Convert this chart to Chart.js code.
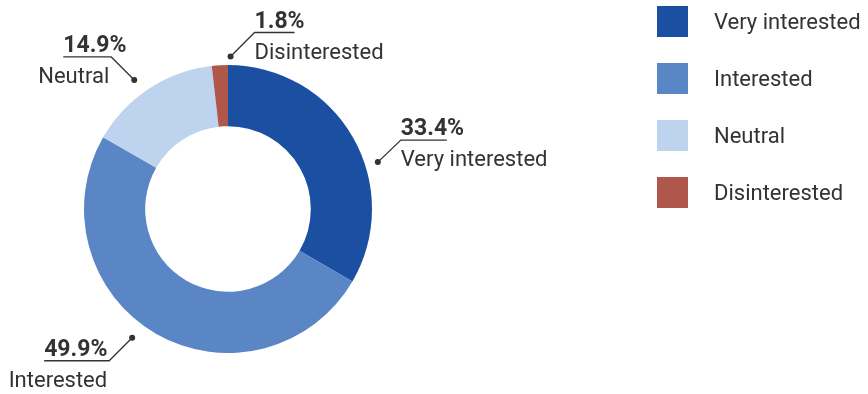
<!DOCTYPE html>
<html>
<head>
<meta charset="utf-8">
<script src="https://cdn.jsdelivr.net/npm/chart.js@4/dist/chart.umd.min.js"></script>
<style>
  html, body { margin: 0; padding: 0; background: #ffffff; }
  #wrap { width: 868px; height: 394px; position: relative; }
</style>
</head>
<body>
<div id="wrap"><canvas id="chart"></canvas></div>
<script>
// Survey answers: share of respondents per interest level (%)
const categories = ['Very interested', 'Interested', 'Neutral', 'Disinterested'];
const shares = [33.4, 49.9, 14.9, 1.8];
const sliceColors = ['#1b4fa2', '#5a86c5', '#bdd3ee', '#b0574c'];

const TEXT_COLOR = '#333333';
const FONT_FAMILY = 'Roboto, "Noto Sans", sans-serif';

// Callout geometry for each slice: where the dot sits relative to the arc,
// the elbow of the leader line and the length of the underline.
const calloutStyle = [
  { angleShift: 12.5, gap: 13, elbowDx: 23, elbowDy: -22, lineLen: 46, side: 'right' },
  { angleShift: 6.6, gap: 16.5, elbowDx: -23, elbowDy: 23, lineLen: 65, side: 'left' },
  { angleShift: -2.7, gap: 15.5, elbowDx: -23, elbowDy: -23, lineLen: 48, side: 'left' },
  { angleShift: 4.2, gap: 8.5, elbowDx: 24, elbowDy: -24, lineLen: 40, side: 'right' }
];

const calloutPlugin = {
  id: 'callouts',
  afterDatasetsDraw(chart) {
    const ctx = chart.ctx;
    const meta = chart.getDatasetMeta(0);
    const values = chart.data.datasets[0].data;
    const labels = chart.data.labels;
    ctx.save();
    meta.data.forEach((arc, i) => {
      const st = calloutStyle[i];
      const props = arc.getProps(['x', 'y', 'startAngle', 'endAngle', 'outerRadius'], true);
      const mid = (props.startAngle + props.endAngle) / 2 + st.angleShift * Math.PI / 180;
      const r = props.outerRadius + st.gap;
      const dx = props.x + r * Math.cos(mid);
      const dy = props.y + r * Math.sin(mid);
      const ex = dx + st.elbowDx;
      const ey = dy + st.elbowDy;
      const lx = st.side === 'right' ? ex + st.lineLen : ex - st.lineLen;

      // leader line + underline
      ctx.strokeStyle = TEXT_COLOR;
      ctx.lineWidth = 1.3;
      ctx.beginPath();
      ctx.moveTo(dx, dy);
      ctx.lineTo(ex, ey);
      ctx.lineTo(lx, ey);
      ctx.stroke();
      // anchor dot
      ctx.fillStyle = TEXT_COLOR;
      ctx.beginPath();
      ctx.arc(dx, dy, 3, 0, Math.PI * 2);
      ctx.fill();

      // percentage (bold) above the underline
      ctx.textBaseline = 'alphabetic';
      ctx.font = 'bold 23px ' + FONT_FAMILY;
      ctx.textAlign = 'left';
      const pctX = st.side === 'right' ? ex : lx;
      ctx.fillText(values[i].toFixed(1) + '%', pctX, ey - 5);

      // category name below
      ctx.font = '22px ' + FONT_FAMILY;
      ctx.textAlign = st.side === 'right' ? 'left' : 'right';
      ctx.fillText(labels[i], st.side === 'right' ? ex : ex - 2, ey + 26);
    });
    ctx.restore();
  }
};

// Legend: coloured squares with the category names, stacked on the right
const legendPlugin = {
  id: 'sideLegend',
  afterDraw(chart) {
    const ctx = chart.ctx;
    const ds = chart.data.datasets[0];
    const boxX = 657, boxTop = 6, box = 31, step = 57, textX = 714;
    ctx.save();
    chart.data.labels.forEach((label, i) => {
      const y = boxTop + i * step;
      ctx.fillStyle = ds.backgroundColor[i];
      ctx.fillRect(boxX, y, box, box);
      ctx.fillStyle = TEXT_COLOR;
      ctx.font = '22px ' + FONT_FAMILY;
      ctx.textAlign = 'left';
      ctx.textBaseline = 'alphabetic';
      ctx.fillText(label, textX, y + 23);
    });
    ctx.restore();
  }
};

new Chart(document.getElementById('chart'), {
  type: 'doughnut',
  data: {
    labels: categories,
    datasets: [{
      data: shares,
      backgroundColor: sliceColors,
      borderWidth: 0,
      hoverOffset: 0,
      offset: 0
    }]
  },
  options: {
    responsive: true,
    maintainAspectRatio: false,
    animation: false,
    events: [],
    cutout: '57.5%',
    rotation: 0,
    layout: { padding: { left: 84, top: 65, right: 496, bottom: 41 } },
    plugins: {
      legend: { display: false },
      tooltip: { enabled: false }
    }
  },
  plugins: [calloutPlugin, legendPlugin]
});
</script>
</body>
</html>
